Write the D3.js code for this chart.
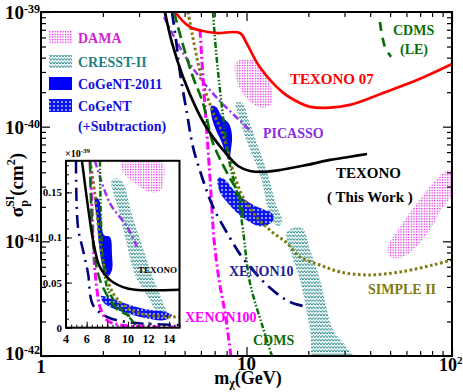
<!DOCTYPE html>
<meta charset="utf-8">
<style>
  body { margin: 0; background: #fff; }
  text { font-family: "Liberation Serif", "Times New Roman", serif; font-weight: bold; }
</style>
<body>
<svg id="chart" width="463" height="392"></svg>
<script src="https://d3js.org/d3.v7.min.js"></script>
<script>
  // [mass (GeV), sigma (1e-40 cm^2)]
  var texono = [[4.01,10],[4.34,5.37],[4.91,2.71],[5.74,1.40],[6.50,0.935],[7.69,0.626],[9.09,0.454],
    [10.4,0.411],[12.0,0.403],[14.6,0.419],[19.7,0.464],[25.5,0.513],[31.9,0.547],[38.6,0.578]];
  var texono07 = [[4.49,10],[4.85,8.5],[5.31,7.40],[6.14,6.83],[7.18,6.56],[9.29,6.56],[10.0,5.37],
    [11.6,3.31],[15.1,1.97],[18.2,1.61],[20.4,1.49],[24.6,1.46],[31.9,1.55],[46.2,1.97],[67.6,2.55],[100,3.52]];
  var cdmsLE = [[44.6,8.18],[45.7,6.2],[47.3,4.9],[50.5,4.06]];
  var cdmsDash = [[4.44,10],[4.91,5.15],[5.49,2.71],[6.14,1.61],[6.87,0.721],[8.04,0.395],[9.29,0.244],[9.61,0.160]];
  var cdms = [[6.87,10],[7.10,4.67],[7.43,2.09],[7.78,1.035],[8.31,0.463],[9.09,0.244],[9.61,0.126],
    [10.4,0.0433],[12.0,0.0179],[13.3,0.01]];
  var xenon10 = [[4.34,10],[4.54,5.7],[4.75,2.94],[5.13,1.315],[5.49,0.665],[6.14,0.343],[6.87,0.200],
    [8.31,0.107],[9.51,0.0731],[13.0,0.0393],[16.3,0.0296],[19.7,0.0268]];
  var xenon100 = [[5.94,6.97],[6.14,2.71],[6.35,1.14],[6.50,0.626],[6.64,0.364],[6.79,0.188],[6.95,0.103],
    [7.35,0.0461],[7.86,0.0238],[8.40,0.01]];
  var simple2 = [[5.19,10],[5.43,6.56],[5.81,3.59],[6.28,2.09],[6.87,1.34],[7.60,0.899],[8.79,0.364],
    [9.61,0.244],[11.2,0.163],[13.3,0.121],[15.7,0.0969],[18.2,0.0731],[22.8,0.0622],[28.5,0.0541],
    [38.6,0.0509],[55.9,0.0541],[80.8,0.0622],[100,0.0688]];
  var picasso = [[3.97,9.0],[4.91,4.40],[5.94,2.66],[7.18,1.78],[8.59,1.29],[10.6,0.899]];

  var damaA = [[8.89,3.66],[10.2,3.89],[11.4,3.59],[12.4,2.82],[13.3,2.09],[13.3,1.61],[12.0,1.46],
    [10.6,1.61],[9.51,2.01],[8.89,2.66]];
  var damaB = [[95.7,0.419],[105,0.40],[105,0.28],[90.4,0.200],[78.1,0.126],[64.6,0.0841],[55.9,0.0716],
    [49.9,0.0731],[48.8,0.0894],[55.9,0.134],[67.6,0.216],[80.8,0.323]];
  var cresstA = [[8.85,1.60],[9.50,1.62],[10.3,1.12],[11.1,0.76],[12.8,0.37],[13.9,0.21],[14.9,0.150],
    [14.2,0.136],[13.4,0.152],[12.7,0.195],[11.7,0.37],[10.1,0.72],[9.15,1.24]];
  var cresstB = [[15.7,0.121],[18.6,0.131],[20.4,0.0841],[22.8,0.0461],[26.4,0.0169],[30.1,0.0125],
    [35.5,0.008],[21.8,0.008],[20.4,0.0169],[18.2,0.0461],[16.6,0.0760]];
  var cogent2011 = [[6.72,1.51],[7.10,1.49],[7.60,1.22],[8.22,1.06],[8.50,0.847],[8.40,0.626],[8.22,0.513],
    [7.95,0.566],[7.60,0.721],[7.10,0.935],[6.79,1.19]];
  var cogentSub = [[7.27,0.357],[7.78,0.350],[8.50,0.292],[9.29,0.249],[10.6,0.212],[11.9,0.192],[13.2,0.177],
    [13.6,0.157],[12.7,0.139],[11.4,0.136],[9.95,0.154],[8.69,0.188],[7.86,0.230],[7.35,0.281]];

  // inset: [mass (GeV), sigma (1e-39 cm^2)], linear axes
  var inTexono = [[5.55,0.185],[6.13,0.134],[6.62,0.097],[7.29,0.067],[8.26,0.053],[9.52,0.045],[10.69,0.042],[15,0.042]];
  var inXenon10 = [[4.97,0.185],[5.16,0.1116],[5.65,0.086],[6.13,0.0606],[6.62,0.0251],[7.97,0.0119],[9.91,0.0063],[12.14,0.0041],[15,0.003]];
  var inXenon100 = [[6.33,0.185],[6.52,0.1338],[6.71,0.078],[7.0,0.042],[7.29,0.023],[7.97,0.0085],[9.23,0.003],[15,0.0008]];
  var inCdmsDash = [[6.33,0.185],[6.42,0.141],[6.71,0.086],[7.29,0.053],[8.26,0.0307],[9.04,0.0197],[10.2,0.013]];
  var inCdms = [[7.29,0.185],[7.39,0.119],[7.59,0.075],[8.07,0.042],[9.23,0.022],[10.2,0.0108],[10.78,0.002]];
  var inSimple = [[6.33,0.185],[6.81,0.147],[7.29,0.097],[7.78,0.064],[8.55,0.0385],[9.91,0.0219],[11.85,0.0141],[15,0.0119]];
  var inPicasso = [[6.81,0.185],[8.26,0.138],[9.91,0.112],[10.88,0.0895]];
  var inDama = [[9.52,0.19],[13.2,0.19],[13.2,0.1527],[12.14,0.1504],[10.69,0.1604],[9.52,0.1726]];
  var inCresst = [[8.46,0.1637],[9.33,0.1637],[10.4,0.1249],[11.36,0.0917],[12.33,0.0584],[13.3,0.0307],
    [13.88,0.0108],[13.11,0.0108],[12.14,0.0307],[10.69,0.0584],[9.91,0.0917],[9.23,0.1249]];
  var inCogent2011 = [[6.81,0.145],[7.20,0.1415],[7.39,0.125],[7.68,0.1028],[8.26,0.1005],[8.46,0.0806],
    [8.46,0.064],[8.07,0.0573],[7.59,0.0662],[7.20,0.0917],[7.00,0.1194],[6.81,0.136]];
  var inCogentSub = [[7.39,0.0351],[8.26,0.0329],[9.91,0.0263],[11.65,0.0207],[13.59,0.0174],[14.27,0.0141],
    [13.59,0.0085],[11.65,0.0108],[10.2,0.0152],[8.46,0.0218],[7.59,0.0285]];

  var xMajor = [1, 10, 100];
  var yMajor = [0.01, 0.1, 1, 10];
  var yMajorExp = ["-42", "-41", "-40", "-39"];
  var inXTicks = [4, 6, 8, 10, 12, 14];
  var inYTicks = [0, 0.05, 0.1, 0.15];
  var inYLabels = ["0", "0.05", "0.1", "0.15"];

  var svg = d3.select("#chart");
  var x = d3.scaleLog().domain([1, 100]).range([41, 452]);
  var y = d3.scaleLog().domain([0.01, 10]).range([356, 12]);

  var defs = svg.append("defs");
  var p = defs.append("pattern").attr("id", "pDama").attr("patternUnits", "userSpaceOnUse")
          .attr("width", 2.6).attr("height", 2.6);
  p.append("rect").attr("width", 1.2).attr("height", 1.2).attr("fill", "#e000e0");
  p = defs.append("pattern").attr("id", "pCresst").attr("patternUnits", "userSpaceOnUse")
          .attr("width", 3).attr("height", 3.6);
  p.append("path").attr("d", "M0,3 L1.5,0.6 L3,3").attr("fill", "none")
          .attr("stroke", "#1f8585").attr("stroke-width", 0.9);
  p = defs.append("pattern").attr("id", "pCogent").attr("patternUnits", "userSpaceOnUse")
          .attr("width", 4).attr("height", 4);
  p.append("rect").attr("width", 4).attr("height", 4).attr("fill", "#0a14f0");
  p.append("path").attr("d", "M2,0.9 L3.1,2 L2,3.1 L0.9,2Z").attr("fill", "#fff");

  defs.append("clipPath").attr("id", "clipMain").append("rect")
          .attr("x", 41).attr("y", 12).attr("width", 411).attr("height", 344);

  var plot = svg.append("g").attr("clip-path", "url(#clipMain)");
  var line = d3.line().x(function(d){ return x(d[0]); }).y(function(d){ return y(d[1]); })
          .curve(d3.curveCatmullRom.alpha(0.5));
  var area = d3.line().x(function(d){ return x(d[0]); }).y(function(d){ return y(d[1]); })
          .curve(d3.curveCatmullRomClosed.alpha(0.5));

  [[damaA, "url(#pDama)"], [damaB, "url(#pDama)"], [cresstA, "url(#pCresst)"], [cresstB, "url(#pCresst)"],
   [cogent2011, "#0000ff"], [cogentSub, "url(#pCogent)"]].forEach(function(r){
    plot.append("path").attr("d", area(r[0])).attr("fill", r[1]);
  });

  var curves = [
    [simple2, "#7d7a10", 3, "2.6,2.6"],
    [picasso, "#9933ee", 2.5, "7,3,2,3"],
    [xenon100, "#ff00ff", 3, "8,3,2,3"],
    [xenon10, "#00007a", 2.7, "13,6,2,6"],
    [cdmsDash, "#0a6e0a", 2.7, "11,5"],
    [cdms, "#0a6e0a", 2.5, "6,2,1.5,2,1.5,2"],
    [cdmsLE, "#0a6e0a", 2.7, "9,7"],
    [texono07, "#ff0000", 2.7, null],
    [texono, "#000000", 2.7, null]
  ];
  curves.forEach(function(c){
    plot.append("path").attr("d", line(c[0])).attr("fill", "none").attr("stroke", c[1])
            .attr("stroke-width", c[2]).attr("stroke-dasharray", c[3]);
  });

  // axes: ticks pointing inward
  var xMinor = [], yMinor = [];
  for (var e = 0; e < 2; e++) for (var k = 2; k < 10; k++) xMinor.push(k * Math.pow(10, e));
  for (e = -2; e < 1; e++) for (k = 2; k < 10; k++) yMinor.push(k * Math.pow(10, e));
  function ax(gen, vals, len, tr) {
    var g = svg.append("g").attr("transform", tr)
            .call(gen.tickValues(vals).tickSize(-len).tickFormat(""));
    g.selectAll("line").attr("stroke", "#000").attr("stroke-width", 1.2);
    g.select(".domain").remove();
  }
  ax(d3.axisBottom(x), xMajor, 9, "translate(0,356)");
  ax(d3.axisBottom(x), xMinor, 5, "translate(0,356)");
  ax(d3.axisTop(x), xMajor, 9, "translate(0,12)");
  ax(d3.axisTop(x), xMinor, 5, "translate(0,12)");
  ax(d3.axisLeft(y), yMajor, 9, "translate(41,0)");
  ax(d3.axisLeft(y), yMinor, 5, "translate(41,0)");
  ax(d3.axisRight(y), yMajor, 9, "translate(452,0)");
  ax(d3.axisRight(y), yMinor, 5, "translate(452,0)");
  svg.append("rect").attr("x", 41).attr("y", 12).attr("width", 411).attr("height", 344)
          .attr("fill", "none").attr("stroke", "#000").attr("stroke-width", 2);

  // tick labels
  yMajor.forEach(function(v, i){
    var t = svg.append("text").attr("x", 40).attr("y", y(v) + (i === 0 ? 4 : 7))
            .attr("text-anchor", "end").attr("font-size", 19);
    t.append("tspan").text("10");
    t.append("tspan").attr("font-size", 12).attr("dy", -6).text(yMajorExp[i]);
  });
  svg.append("text").attr("x", x(1)).attr("y", 373).attr("text-anchor", "middle").attr("font-size", 19).text("1");
  svg.append("text").attr("x", x(10)).attr("y", 370).attr("text-anchor", "middle").attr("font-size", 19).text("10");
  var t2 = svg.append("text").attr("x", 439).attr("y", 371).attr("font-size", 18);
  t2.append("tspan").text("10");
  t2.append("tspan").attr("font-size", 11).attr("dy", -7).text("2");

  // axis titles
  var xt = svg.append("text").attr("x", 248).attr("y", 384).attr("text-anchor", "middle").attr("font-size", 18);
  xt.append("tspan").text("m");
  xt.append("tspan").attr("font-size", 12).attr("dy", 3).text("χ");
  xt.append("tspan").attr("dy", -3).text("(GeV)");
  var yt = svg.append("text").attr("transform", "translate(23,185) rotate(-90)")
          .attr("text-anchor", "middle").attr("font-size", 19);
  yt.append("tspan").text("σ");
  yt.append("tspan").attr("font-size", 12).attr("dy", 5).text("p");
  yt.append("tspan").attr("font-size", 12).attr("dx", -7).attr("dy", -14).text("SI");
  yt.append("tspan").attr("dy", 9).text("(cm");
  yt.append("tspan").attr("font-size", 12).attr("dy", -8).text("2");
  yt.append("tspan").attr("dy", 8).text(")");

  // legend
  var legend = [["url(#pDama)", "DAMA", "#d41fd4", 31], ["url(#pCresst)", "CRESST-II", "#1f7f7f", 55],
    ["#0000ff", "CoGeNT-2011", "#1010e0", 77], ["url(#pCogent)", "CoGeNT", "#1010e0", 99]];
  legend.forEach(function(l){
    svg.append("rect").attr("x", 49).attr("y", l[3]).attr("width", 23).attr("height", 13).attr("fill", l[0]);
    svg.append("text").attr("x", 78).attr("y", l[3] + 12).attr("font-size", 14).attr("fill", l[2]).text(l[1]);
  });
  svg.append("text").attr("x", 78).attr("y", 131).attr("font-size", 14).attr("fill", "#1010e0").text("(+Subtraction)");

  // curve labels
  function label(txt, px, py, col, fs) {
    svg.append("text").attr("x", px).attr("y", py).attr("font-size", fs).attr("fill", col).text(txt);
  }
  label("TEXONO 07", 290, 84, "#ff0000", 15);
  label("CDMS", 393, 35, "#0a6e0a", 14);
  label("(LE)", 400, 54, "#0a6e0a", 14);
  label("PICASSO", 263, 138, "#8a2be2", 14);
  label("TEXONO", 336, 178, "#000", 15);
  label("( This Work )", 327, 202, "#000", 15);
  label("XENON10", 229, 276, "#1a1a99", 14);
  label("XENON100", 185, 322, "#ff00ff", 14);
  label("CDMS", 253, 345, "#0a6e0a", 14);
  label("SIMPLE II", 368, 294, "#7d7a10", 14);

  // inset
  var ix = d3.scaleLinear().domain([4, 15]).range([66, 179.5]);
  var iy = d3.scaleLinear().domain([0, 0.185]).range([327.7, 160.8]);
  defs.append("clipPath").attr("id", "clipIn").append("rect")
          .attr("x", 66).attr("y", 160.8).attr("width", 113.5).attr("height", 166.9);
  svg.append("rect").attr("x", 66).attr("y", 160.8).attr("width", 113.5).attr("height", 166.9).attr("fill", "#fff");
  var ins = svg.append("g").attr("clip-path", "url(#clipIn)");
  var iline = d3.line().x(function(d){ return ix(d[0]); }).y(function(d){ return iy(d[1]); })
          .curve(d3.curveCatmullRom.alpha(0.5));
  var iarea = d3.line().x(function(d){ return ix(d[0]); }).y(function(d){ return iy(d[1]); })
          .curve(d3.curveCatmullRomClosed.alpha(0.5));
  [[inDama, "url(#pDama)"], [inCresst, "url(#pCresst)"], [inCogent2011, "#0000ff"], [inCogentSub, "url(#pCogent)"]]
    .forEach(function(r){ ins.append("path").attr("d", iarea(r[0])).attr("fill", r[1]); });
  [[inSimple, "#7d7a10", 3, "2.6,2.6"], [inPicasso, "#9933ee", 2.5, "7,3,2,3"], [inXenon100, "#ff00ff", 3, "8,3,2,3"],
   [inXenon10, "#00007a", 2.5, "13,6,2,6"], [inCdmsDash, "#0a6e0a", 2.5, "11,5"],
   [inCdms, "#0a6e0a", 2.5, "6,2,1.5,2,1.5,2"], [inTexono, "#000", 2.5, null]].forEach(function(c){
    ins.append("path").attr("d", iline(c[0])).attr("fill", "none").attr("stroke", c[1])
            .attr("stroke-width", c[2]).attr("stroke-dasharray", c[3]);
  });
  var inXMinor = d3.range(4, 15.01, 0.5), inYMinor = d3.range(0, 0.181, 0.01);
  function iax(gen, vals, len, tr) {
    var g = svg.append("g").attr("transform", tr).call(gen.tickValues(vals).tickSize(-len).tickFormat(""));
    g.selectAll("line").attr("stroke", "#000").attr("stroke-width", 1);
    g.select(".domain").remove();
  }
  iax(d3.axisBottom(ix), inXTicks, 6, "translate(0,327.7)");
  iax(d3.axisBottom(ix), inXMinor, 3, "translate(0,327.7)");
  iax(d3.axisLeft(iy), inYTicks, 6, "translate(66,0)");
  iax(d3.axisLeft(iy), inYMinor, 3, "translate(66,0)");
  svg.append("rect").attr("x", 66).attr("y", 160.8).attr("width", 113.5).attr("height", 166.9)
          .attr("fill", "none").attr("stroke", "#000").attr("stroke-width", 2);
  inXTicks.forEach(function(v){
    svg.append("text").attr("x", ix(v)).attr("y", 343).attr("text-anchor", "middle").attr("font-size", 12).text(v);
  });
  inYTicks.forEach(function(v, i){
    svg.append("text").attr("x", 62).attr("y", iy(v) + 4).attr("text-anchor", "end").attr("font-size", 11).text(inYLabels[i]);
  });
  var sc = svg.append("text").attr("x", 65).attr("y", 157).attr("font-size", 10);
  sc.append("tspan").text("×10");
  sc.append("tspan").attr("font-size", 7).attr("dy", -4).text("-39");
  label("TEXONO", 138, 273, "#000", 9);
</script>
</body>
